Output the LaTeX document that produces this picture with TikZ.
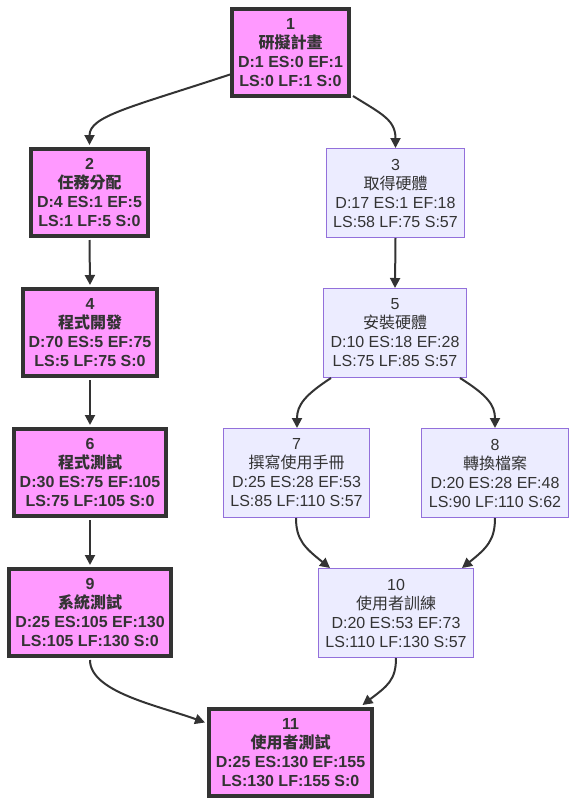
\documentclass[tikz,border=0pt]{standalone}
\usepackage{fontspec}
\setmainfont{Liberation Sans}
\newfontfamily\cjkfont{Noto Sans CJK TC}
\newcommand\zh[1]{{\cjkfont #1}}
\usetikzlibrary{arrows.meta,calc}
\definecolor{ink}{HTML}{333333}
\definecolor{critfill}{HTML}{FF99FF}
\definecolor{taskfill}{HTML}{ECECFF}
\definecolor{taskline}{HTML}{9370DB}
\begin{document}
\begin{tikzpicture}[x=1pt,y=1pt,
  crit/.style={draw=ink, line width=4pt, fill=critfill, text=ink,
    font=\fontsize{16}{19}\selectfont\bfseries, align=center, inner sep=0pt,
    minimum height=87pt},
  task/.style={draw=taskline, line width=1pt, fill=taskfill, text=ink,
    font=\fontsize{16}{19}\selectfont, align=center, inner sep=0pt,
    minimum height=89pt},
  link/.style={draw=ink, line width=2pt,
    -{Triangle[length=10pt,width=10pt]}}]
\useasboundingbox (0,0) rectangle (578,-806);

% critical path tasks
\node[crit, minimum width=117pt] (n1) at (290.5,-52.5) {1\\\zh{研擬計畫}\\D:1 ES:0 EF:1\\LS:0 LF:1 S:0};
\node[crit, minimum width=117pt] (n2) at (89.5,-192.5) {2\\\zh{任務分配}\\D:4 ES:1 EF:5\\LS:1 LF:5 S:0};
\node[crit, minimum width=134pt] (n4) at (90,-332.5) {4\\\zh{程式開發}\\D:70 ES:5 EF:75\\LS:5 LF:75 S:0};
\node[crit, minimum width=152pt] (n6) at (90,-472.5) {6\\\zh{程式測試}\\D:30 ES:75 EF:105\\LS:75 LF:105 S:0};
\node[crit, minimum width=162pt] (n9) at (90,-612.5) {9\\\zh{系統測試}\\D:25 ES:105 EF:130\\LS:105 LF:130 S:0};
\node[crit, minimum width=163pt] (n11) at (290.5,-752.5) {11\\\zh{使用者測試}\\D:25 ES:130 EF:155\\LS:130 LF:155 S:0};

% tasks with slack
\node[task, minimum width=138pt] (n3) at (395.5,-193) {3\\\zh{取得硬體}\\D:17 ES:1 EF:18\\LS:58 LF:75 S:57};
\node[task, minimum width=143pt] (n5) at (395,-333) {5\\\zh{安裝硬體}\\D:10 ES:18 EF:28\\LS:75 LF:85 S:57};
\node[task, minimum width=146pt] (n7) at (296.5,-473) {7\\\zh{撰寫使用手冊}\\D:25 ES:28 EF:53\\LS:85 LF:110 S:57};
\node[task, minimum width=147pt] (n8) at (495,-473) {8\\\zh{轉換檔案}\\D:20 ES:28 EF:48\\LS:90 LF:110 S:62};
\node[task, minimum width=155pt] (n10) at (396,-613) {10\\\zh{使用者訓練}\\D:20 ES:53 EF:73\\LS:110 LF:130 S:57};

% dependencies
\draw[link] ($(n1.west)+(0,-22)$) .. controls +(-100,-33) and +(0,29) .. ($(n2.north)+(0,2)$);
\draw[link] ($(n1.south east)+(2,2)$) .. controls +(29,-18) and +(0,28) .. (n3.north);
\draw[link] ($(n2.south)+(0,-2)$) -- ($(n4.north)+(0,2)$);
\draw[link] ($(n4.south)+(0,-2)$) -- ($(n6.north)+(0,2)$);
\draw[link] ($(n6.south)+(0,-2)$) -- ($(n9.north)+(0,2)$);
\draw[link] (n3.south) -- (n5.north);
\draw[link] ($(n5.south)+(-64,0)$) .. controls +(-26,-17) and +(0,23) .. ($(n7.north)+(0.5,0)$);
\draw[link] ($(n5.south)+(65,0)$) .. controls +(27,-17) and +(0,23) .. (n8.north);
\draw[link] ($(n7.south)+(-0.5,0)$) .. controls +(0,-22) and +(-25,20) .. ($(n10.north)+(-66,0)$);
\draw[link] (n8.south) .. controls +(0,-22) and +(25,20) .. ($(n10.north)+(66,0)$);
\draw[link] ($(n9.south)+(0,-2)$) .. controls +(0,-32) and +(-47,17) .. ($(n11.west)+(-2,30)$);
\draw[link] (n10.south) .. controls +(0,-22) and +(25,19) .. ($(n11.north)+(72,2)$);
\end{tikzpicture}
\end{document}
